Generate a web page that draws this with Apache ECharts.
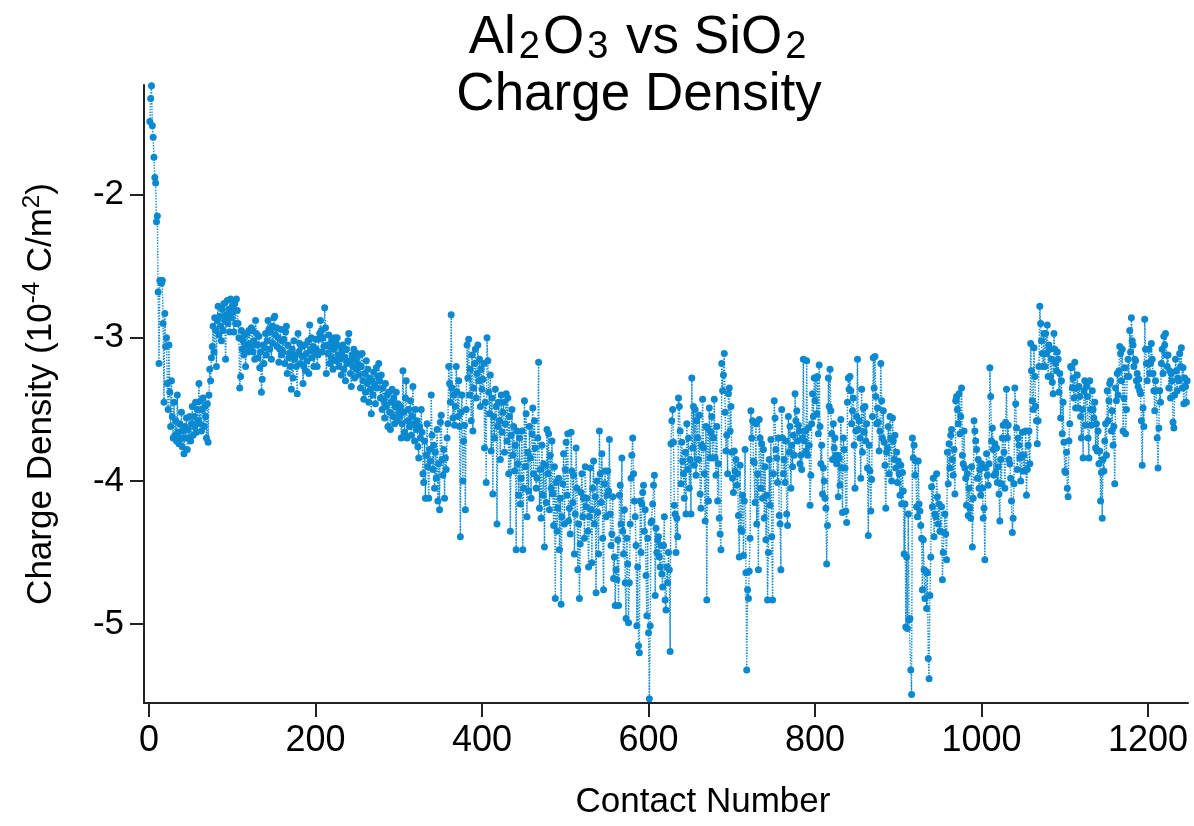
<!DOCTYPE html>
<html>
<head>
<meta charset="utf-8">
<script src="https://cdn.jsdelivr.net/npm/echarts@6/dist/echarts.min.js"></script>
<style>
html,body{margin:0;padding:0;background:#fff;}
#chart{width:1194px;height:826px;}
</style>
</head>
<body>
<div id="chart"></div>
<script>
// Contact numbers start at 1; one value per contact.
const contactStart = 1;
const xTicks = [0, 200, 400, 600, 800, 1000, 1200];
const yTicks = [-5, -4, -3, -2];

// Charge density (10^-4 C/m^2), contacts 1-250
const densityA = [
-1.49,-1.33,-1.24,-1.52,-1.60,-1.74,-1.88,-1.92,-2.19,-2.15,-2.68,-3.18,-2.60,-2.61,-2.62,-2.60,-2.90,-3.45,-2.83,-3.06,-3.00,-3.32,-3.50,-3.05,-3.38,
-3.62,-3.30,-3.55,-3.70,-3.45,-3.68,-3.58,-3.72,-3.40,-3.66,-3.74,-3.60,-3.70,-3.52,-3.76,-3.65,-3.81,-3.62,-3.70,-3.56,-3.78,-3.64,-3.70,-3.55,-3.72,
-3.60,-3.48,-3.68,-3.55,-3.62,-3.45,-3.66,-3.50,-3.58,-3.32,-3.60,-3.44,-3.65,-3.50,-3.42,-3.62,-3.48,-3.55,-3.70,-3.46,-3.73,-3.40,-3.22,-3.30,-3.14,
-3.06,-2.92,-3.10,-2.86,-2.95,-3.20,-2.88,-2.78,-2.98,-2.85,-2.92,-3.02,-2.80,-2.95,-2.76,-2.88,-3.15,-2.84,-2.74,-2.90,-2.80,-2.96,-2.73,-2.86,-2.78,
-2.82,-2.96,-2.76,-2.90,-2.73,-2.81,-2.90,-3.00,-3.35,-3.27,-2.95,-3.08,-3.02,-3.12,-2.98,-3.20,-3.05,-2.97,-3.10,-2.95,-3.04,-3.07,-2.93,-2.95,-3.10,
-3.02,-3.15,-2.88,-2.97,-3.05,-3.14,-2.99,-3.21,-3.10,-3.38,-3.29,-3.05,-3.18,-3.07,-2.97,-3.12,-3.02,-2.88,-2.94,-3.08,-2.96,-3.15,-2.92,-3.04,-2.86,
-2.85,-2.98,-2.93,-3.06,-3.00,-3.17,-3.08,-2.94,-3.12,-3.02,-3.10,-3.01,-3.18,-2.96,-2.92,-3.25,-3.05,-3.14,-3.11,-3.20,-3.36,-3.08,-3.28,-3.02,-3.15,
-3.12,-3.20,-3.39,-2.97,-3.10,-3.04,-3.18,-3.06,-3.13,-3.32,-3.20,-3.05,-3.23,-3.11,-3.16,-3.02,-3.25,-2.91,-3.09,-3.00,-3.14,-3.06,-3.20,-3.10,-3.01,
-3.08,-3.20,-3.12,-3.01,-2.97,-2.88,-2.95,-3.10,-3.00,-3.06,-2.79,-2.93,-3.25,-3.05,-3.11,-2.98,-3.18,-3.06,-3.14,-3.02,-3.22,-3.08,-3.00,-3.16,-3.04,
-3.00,-3.12,-3.20,-3.06,-3.15,-3.26,-3.10,-3.05,-3.22,-3.14,-3.30,-3.08,-3.18,-3.02,-2.97,-3.16,-3.25,-3.34,-3.12,-3.20,-3.08,-3.28,-3.15,-3.22,-3.11
];
// contacts 251-500
const densityB = [
-3.18,-3.26,-3.12,-3.35,-3.20,-3.11,-3.30,-3.43,-3.25,-3.38,-3.16,-3.32,-3.22,-3.45,-3.28,-3.36,-3.53,-3.30,-3.40,-3.24,-3.33,-3.46,-3.21,-3.35,-3.27,
-3.18,-3.30,-3.42,-3.26,-3.50,-3.35,-3.44,-3.56,-3.32,-3.48,-3.40,-3.62,-3.38,-3.52,-3.64,-3.45,-3.36,-3.55,-3.42,-3.60,-3.48,-3.38,-3.58,-3.46,-3.52,
-3.55,-3.48,-3.70,-3.60,-3.23,-3.52,-3.66,-3.42,-3.30,-3.70,-3.58,-3.50,-3.62,-3.44,-3.68,-3.55,-3.34,-3.60,-3.72,-3.50,-3.64,-3.58,-3.76,-3.84,-3.62,
-3.70,-3.50,-3.66,-3.95,-4.01,-3.72,-4.12,-3.82,-3.60,-3.90,-4.12,-3.78,-3.86,-3.40,-3.68,-3.92,-3.75,-4.05,-3.80,-3.98,-3.64,-4.14,-3.88,-4.20,-3.59,
-3.54,-3.85,-3.96,-3.78,-4.12,-3.84,-3.92,-3.70,-3.60,-3.20,-3.32,-3.45,-2.84,-3.35,-3.56,-3.40,-3.61,-3.48,-3.20,-3.38,-3.55,-3.30,-3.62,-4.39,-3.52,
-3.40,-4.00,-3.72,-3.61,-4.20,-3.50,-3.05,-3.28,-3.01,-3.40,-3.22,-3.58,-3.12,-3.65,-3.35,-3.18,-3.08,-3.42,-3.25,-3.05,-3.30,-3.15,-3.48,-3.22,-3.36,
-3.29,-3.18,-3.77,-3.45,-4.01,-3.00,-3.16,-3.38,-3.53,-3.26,-3.79,-3.42,-4.09,-3.55,-3.70,-3.36,-3.48,-4.30,-3.62,-3.45,-3.58,-3.85,-3.40,-3.66,-3.52,
-3.45,-3.80,-3.60,-3.39,-3.72,-3.42,-3.95,-3.55,-4.35,-3.68,-3.50,-3.82,-3.62,-3.93,-3.75,-4.48,-3.65,-3.88,-4.10,-3.70,-4.16,-3.98,-3.65,-4.48,-4.05,
-3.44,-3.90,-3.53,-4.25,-3.80,-4.07,-3.62,-3.84,-4.12,-3.67,-3.49,-3.95,-3.58,-3.77,-4.05,-3.98,-3.70,-3.17,-4.19,-3.92,-4.26,-3.75,-4.10,-3.88,-4.46,
-3.89,-4.15,-3.64,-3.95,-3.67,-4.20,-3.82,-4.05,-3.72,-4.09,-4.31,-3.90,-4.82,-4.01,-4.35,-4.19,-3.98,-4.48,-4.12,-4.86,-4.25,-4.02,-3.81,-4.30,-3.92
];
// contacts 501-750
const densityC = [
-3.73,-4.10,-3.67,-4.28,-4.19,-4.37,-3.66,-3.93,-4.15,-3.96,-4.51,-4.23,-3.77,-4.05,-4.62,-4.30,-4.82,-4.44,-4.08,-3.95,-4.25,-4.12,-4.40,-3.90,-4.18,
-4.12,-4.35,-4.60,-4.25,-3.91,-4.20,-4.57,-4.05,-3.86,-4.30,-4.11,-4.78,-4.00,-4.22,-4.51,-3.65,-3.95,-4.15,-3.81,-4.40,-4.76,-4.02,-3.93,-4.25,-4.10,
-3.93,-4.07,-3.71,-4.23,-4.45,-4.37,-4.11,-4.68,-4.53,-4.87,-4.62,-4.69,-4.41,-4.87,-4.10,-4.03,-4.30,-3.84,-4.35,-4.51,-4.20,-4.71,-4.96,-4.40,-4.58,
-4.99,-4.71,-4.30,-3.98,-3.82,-3.70,-3.95,-4.14,-4.25,-4.45,-5.01,-4.60,-5.15,-5.20,-4.14,-4.50,-4.16,-4.08,-4.03,-4.35,-4.20,-4.66,-4.94,-4.40,-5.06,
-5.52,-5.01,-4.29,-4.28,-4.16,-4.03,-3.96,-4.80,-4.33,-4.50,-4.41,-4.39,-4.53,-4.60,-4.45,-4.65,-4.74,-4.45,-4.25,-4.83,-4.90,-4.60,-4.71,-4.50,-4.62,
-5.19,-3.74,-3.58,-3.50,-3.73,-4.17,-4.23,-4.50,-4.26,-4.39,-3.42,-3.48,-3.65,-4.02,-3.73,-3.86,-3.95,-4.12,-3.80,-4.23,-3.60,-3.92,-3.70,-4.05,-3.85,
-4.23,-3.28,-3.77,-3.48,-3.89,-3.50,-3.96,-3.58,-3.70,-3.85,-3.54,-4.09,-4.19,-3.75,-3.43,-3.77,-3.95,-4.28,-3.62,-4.83,-3.63,-4.14,-3.49,-3.84,-3.66,
-3.55,-3.84,-3.70,-3.43,-3.84,-3.96,-3.62,-4.14,-3.88,-4.26,-4.37,-4.48,-3.18,-3.37,-3.26,-3.11,-3.52,-3.79,-3.68,-3.95,-3.39,-3.35,-3.65,-3.48,-3.80,
-3.98,-4.08,-3.79,-3.93,-3.85,-4.03,-3.95,-4.24,-4.53,-3.89,-4.34,-4.35,-4.10,-4.52,-4.14,-3.78,-4.64,-5.32,-4.76,-4.82,-4.63,-4.40,-3.51,-3.70,-3.58,
-3.86,-3.87,-4.15,-3.60,-4.30,-3.95,-4.62,-3.57,-3.70,-4.05,-3.74,-4.12,-3.78,-4.26,-3.90,-4.41,-4.10,-4.83,-4.50,-3.85,-4.17,-3.71,-4.39,-4.83,-3.95
];
// contacts 751-1000
const densityD = [
-3.44,-3.56,-3.78,-3.84,-4.01,-3.70,-4.24,-4.30,-4.62,-3.50,-3.70,-3.95,-3.85,-4.01,-3.72,-4.23,-4.31,-3.55,-3.80,-3.62,-4.05,-3.75,-3.90,-3.68,-3.82,
-3.39,-3.58,-3.51,-3.72,-3.61,-3.65,-3.88,-3.82,-3.92,-3.70,-3.15,-3.72,-3.65,-3.79,-3.16,-3.82,-3.63,-3.75,-4.17,-3.96,-3.60,-3.39,-3.55,-3.28,-3.44,
-3.28,-3.53,-3.27,-3.67,-3.19,-3.62,-3.88,-3.75,-4.09,-3.91,-4.00,-4.12,-4.19,-4.58,-4.31,-3.28,-3.48,-3.22,-3.51,-3.67,-3.85,-3.60,-3.77,-3.70,-3.82,
-3.88,-3.82,-4.11,-3.84,-4.03,-3.57,-3.91,-4.22,-3.70,-3.78,-3.91,-4.21,-4.29,-3.45,-3.28,-3.36,-3.27,-3.37,-3.60,-3.51,-3.42,-3.75,-4.05,-3.65,-3.55,
-3.15,-3.64,-3.58,-3.70,-3.98,-3.36,-3.80,-3.49,-3.66,-3.48,-3.72,-3.60,-3.91,-4.38,-3.75,-3.93,-4.21,-3.99,-3.55,-3.14,-3.35,-3.13,-3.41,-3.60,-3.49,
-3.59,-3.79,-3.65,-3.18,-3.44,-3.70,-3.51,-3.73,-3.89,-4.19,-3.80,-3.77,-3.62,-3.95,-3.55,-3.70,-4.00,-3.56,-3.72,-3.85,-3.68,-3.91,-3.80,-4.01,-3.86,
-3.95,-4.10,-3.89,-4.16,-3.94,-4.07,-4.51,-4.16,-5.02,-4.53,-5.03,-4.23,-4.97,-4.96,-5.32,-5.49,-3.70,-3.84,-3.75,-3.96,-3.86,-4.18,-4.25,-3.86,-4.16,
-4.21,-4.31,-4.40,-4.76,-4.41,-4.62,-4.82,-4.63,-4.89,-4.64,-5.24,-5.38,-4.80,-4.53,-4.04,-4.18,-3.98,-4.39,-4.23,-4.25,-3.95,-4.11,-4.30,-4.16,-4.35,
-4.35,-4.18,-4.69,-4.50,-4.36,-4.23,-4.37,-4.55,-3.80,-4.02,-3.74,-3.91,-3.68,-3.64,-3.85,-3.96,-3.78,-4.09,-3.44,-3.41,-3.50,-3.60,-3.39,-3.67,-3.55,
-3.35,-3.82,-3.88,-3.65,-3.91,-3.98,-4.17,-3.95,-4.24,-4.05,-4.19,-4.26,-3.90,-4.46,-4.12,-3.58,-3.65,-3.72,-3.78,-3.98,-3.85,-4.05,-3.92,-4.10,-3.88
];
// contacts 1001-1247
const densityE = [
-4.05,-4.26,-4.19,-4.55,-3.91,-3.81,-3.96,-4.03,-3.88,-3.21,-3.41,-3.72,-3.63,-3.78,-3.96,-3.74,-3.94,-3.77,-4.01,-3.90,-4.09,-4.28,-3.85,-4.02,-3.70,
-3.61,-3.80,-4.05,-3.59,-3.36,-3.70,-3.61,-3.85,-3.88,-3.98,-4.14,-4.36,-4.26,-4.02,-3.35,-3.46,-3.63,-3.92,-3.70,-3.75,-3.84,-4.00,-3.82,-3.66,-3.93,
-3.82,-3.93,-3.65,-4.10,-3.92,-3.75,-3.65,-3.88,-3.04,-3.23,-3.44,-3.50,-3.07,-3.27,-3.48,-3.58,-3.74,-3.58,-3.20,-2.78,-2.90,-3.02,-3.11,-3.20,-2.97,
-3.20,-2.97,-3.11,-2.91,-3.27,-3.05,-3.08,-3.27,-3.15,-3.31,-3.39,-2.97,-3.08,-3.18,-3.23,-3.10,-3.15,-3.38,-3.25,-3.56,-3.30,-3.67,-3.45,-3.73,-3.93,
-3.94,-3.80,-4.05,-4.11,-3.72,-3.60,-3.20,-3.21,-3.35,-3.28,-3.42,-3.17,-3.49,-3.35,-3.26,-3.49,-3.34,-3.41,-3.55,-3.70,-3.50,-3.84,-3.37,-3.30,-3.61,
-3.34,-3.41,-3.70,-3.84,-3.30,-3.50,-3.61,-3.37,-3.50,-3.56,-3.45,-3.77,-3.60,-3.79,-3.65,-3.88,-3.79,-4.14,-3.94,-4.26,-3.85,-3.93,-3.72,-3.60,-3.82,
-3.37,-3.58,-3.44,-3.32,-3.30,-3.65,-3.51,-3.75,-3.62,-4.02,-3.35,-3.44,-3.25,-3.40,-3.23,-3.06,-3.11,-3.30,-3.08,-3.65,-3.42,-3.21,-3.67,-3.50,-3.27,
-3.15,-3.27,-2.95,-3.10,-2.86,-3.02,-3.05,-3.20,-3.15,-3.16,-3.30,-3.25,-3.34,-3.29,-3.37,-3.39,-3.58,-3.89,-3.49,-3.62,-2.87,-3.08,-3.18,-3.30,-3.18,
-3.08,-3.25,-3.18,-3.04,-3.15,-3.25,-3.37,-3.51,-3.30,-3.37,-3.70,-3.91,-3.63,-3.37,-3.45,-3.18,-3.08,-3.25,-2.99,-3.05,-2.97,-3.12,-3.20,-3.12,-3.35,
-3.23,-3.42,-3.25,-3.30,-3.59,-3.63,-3.40,-3.15,-3.23,-3.37,-3.28,-3.30,-3.11,-3.20,-3.07,-3.35,-3.21,-3.46,-3.28,-3.34,-3.45,-3.30
];

const density = [].concat(densityA, densityB, densityC, densityD, densityE);
const seriesData = density.map((v, i) => [contactStart + i, v]);

const FONT = 'Liberation Sans, Arial, Helvetica, sans-serif';
const DOT = '#0a88d0';

const chart = echarts.init(document.getElementById('chart'), null, {renderer: 'canvas'});
chart.setOption({
  animation: false,
  backgroundColor: '#ffffff',
  textStyle: {fontFamily: FONT},
  graphic: [{
    type: 'text',
    x: 639,
    y: 10,
    style: {
      text: '{n|Al}{s|2}{n|O}{s|3}{n| vs SiO}{s|2}\n{n|Charge Density}',
      align: 'center',
      verticalAlign: 'top',
      fill: '#000',
      rich: {
        n: {fontSize: 53, lineHeight: 57, fontFamily: FONT, fill: '#000'},
        s: {fontSize: 38, lineHeight: 30, verticalAlign: 'bottom', fontFamily: FONT, fill: '#000', padding: [0, 3, 0, 3]}
      }
    }
  }],
  grid: {left: 144, right: 6, top: 85, bottom: 123, containLabel: false},
  xAxis: {
    type: 'value',
    min: -6,
    max: 1248,
    name: 'Contact Number',
    nameLocation: 'middle',
    nameGap: 82,
    nameTextStyle: {fontSize: 35, color: '#000', fontFamily: FONT, padding: [0, 0, 0, 74]},
    axisLine: {show: true, onZero: false, lineStyle: {color: '#222', width: 2}},
    axisTick: {show: true, inside: false, length: 14, customValues: xTicks, lineStyle: {color: '#222', width: 2}},
    axisLabel: {show: true, customValues: xTicks, fontSize: 36, color: '#000', margin: 20, fontFamily: FONT,
      formatter: function (v) { return String(v); }},
    splitLine: {show: false}
  },
  yAxis: {
    type: 'value',
    min: -5.55,
    max: -1.235,
    name: '{n|Charge Density (10}{p|-4}{n| C/m}{p|2}{n|)}',
    nameLocation: 'middle',
    nameRotate: 90,
    nameGap: 82,
    nameTextStyle: {
      fontSize: 35, color: '#000', fontFamily: FONT,
      rich: {
        n: {fontSize: 35, lineHeight: 42, fontFamily: FONT, color: '#000'},
        p: {fontSize: 24, lineHeight: 24, verticalAlign: 'top', fontFamily: FONT, color: '#000'}
      }
    },
    axisLine: {show: true, onZero: false, lineStyle: {color: '#222', width: 2}},
    axisTick: {show: true, inside: false, length: 14, customValues: yTicks, lineStyle: {color: '#222', width: 2}},
    axisLabel: {show: true, customValues: yTicks, fontSize: 35, color: '#000', margin: 20, fontFamily: FONT,
      formatter: function (v) { return String(v); }},
    splitLine: {show: false}
  },
  series: [{
    type: 'line',
    data: seriesData,
    symbol: 'circle',
    symbolSize: 7,
    showSymbol: true,
    showAllSymbol: true,
    sampling: null,
    clip: false,
    itemStyle: {color: DOT},
    lineStyle: {color: DOT, width: 1.4, type: 'dotted'},
    emphasis: {disabled: true}
  }]
});
</script>
</body>
</html>
